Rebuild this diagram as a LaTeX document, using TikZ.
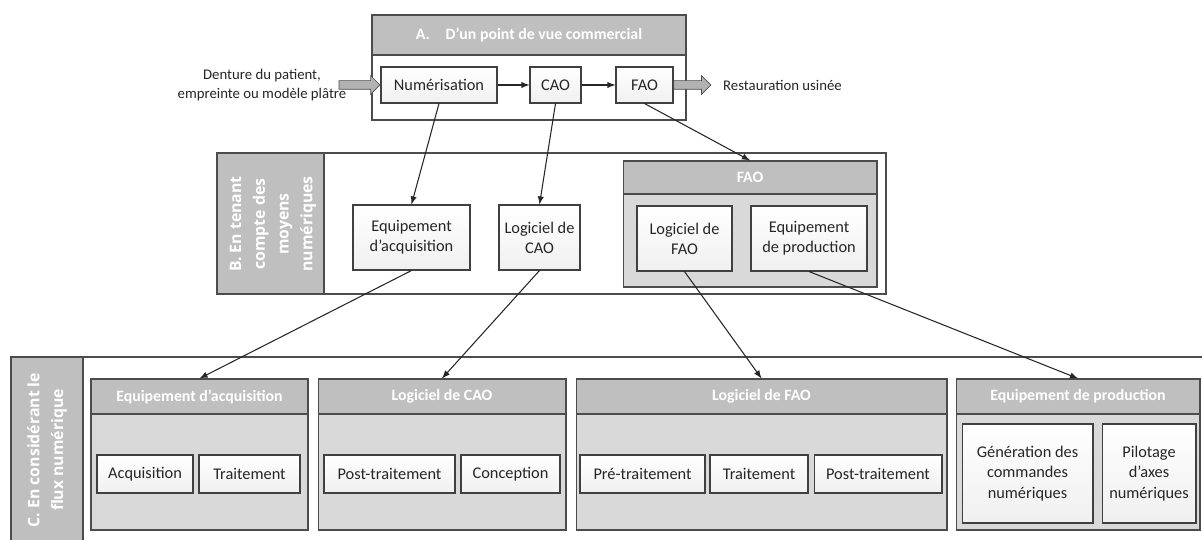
\documentclass[tikz,border=0pt]{standalone}
\usepackage{fontspec}
\setmainfont{Carlito}
\newfontfamily\labelfont{Open Sans}
\usetikzlibrary{shapes.arrows}

\begin{document}
\begin{tikzpicture}
[x=0.02cm, y=-0.02cm, font=\fontsize{9.3}{11.5}\selectfont,
frame/.style={draw=black!70, line width=0.8pt},
side/.style={draw=black!70, line width=0.8pt, fill=gray!50},
head/.style={draw=black!70, line width=0.6pt, fill=gray!50, text=white, inner sep=0pt, font=\bfseries\fontsize{9}{11}\selectfont},
body/.style={draw=black!70, line width=0.6pt, fill=gray!30, inner sep=0pt},
item/.style={draw=black!75, line width=0.6pt, top color=white, bottom color=gray!12, inner sep=0pt, align=center, text=black!85},
sidetext/.style={rotate=90, text=white, align=center, font=\labelfont\bfseries\fontsize{9}{13.5}\selectfont},
link/.style={-latex, black!85, line width=0.6pt},
bigarrow/.style={single arrow, draw=black!70, fill=gray!60, inner xsep=0pt, inner ysep=0.08cm, single arrow head extend=0.1cm}]
\clip (0,0) rectangle (1202,540);
\fill[white] (0,0) rectangle (1202,540);

% A. commercial
\draw[frame, fill=white] (372,15) rectangle (686,120);
\node[head, minimum width=6.28cm, minimum height=0.8cm] (ahead) at (529,35) {A.\quad D'un point de vue commercial};
\node[item, minimum width=2.32cm, minimum height=0.72cm] (num) at (439,85) {Numérisation};
\node[item, minimum width=1.02cm, minimum height=0.72cm] (cao) at (555.5,85) {CAO};
\node[item, minimum width=1.14cm, minimum height=0.72cm] (fao) at (644.5,85) {FAO};
\node[align=center, font=\fontsize{8.4}{11}\selectfont, text=black!85] (dent) at (262,85) {Denture du patient,\\empreinte ou modèle plâtre};
\node[anchor=west, font=\fontsize{8.4}{11}\selectfont, text=black!85] (rest) at (717,85) {Restauration usinée};
\node[bigarrow, minimum height=0.82cm, anchor=tip] (inarr) at (num.west) {};
\node[bigarrow, minimum height=0.74cm, anchor=tail] (outarr) at (fao.east) {};
\draw[link] (num) -- (cao);
\draw[link] (cao) -- (fao);

% B. moyens
\draw[frame, fill=white] (217,153) rectangle (886,294);
\draw[side] (217,153) rectangle (324,294);
\node[sidetext] (blabel) at (273,224) {B. En tenant\\compte des\\moyens\\numériques};
\node[item, minimum width=2.34cm, minimum height=1.3cm] (eqacqb) at (411.5,237.5) {Equipement\\d'acquisition};
\node[item, minimum width=1.62cm, minimum height=1.3cm] (logcaob) at (539.5,237.5) {Logiciel de\\CAO};
\node[body, minimum width=5.08cm, minimum height=1.86cm] (faobody) at (750,240.5) {};
\node[head, minimum width=5.08cm, minimum height=0.66cm] (faohead) at (750,177.5) {FAO};
\node[item, minimum width=1.9cm, minimum height=1.3cm] (logfaob) at (684.5,238.5) {Logiciel de\\FAO};
\node[item, minimum width=2.32cm, minimum height=1.3cm] (eqprodb) at (809,238.5) {Equipement\\de production};

% C. flux
\draw[frame, fill=white] (11,357) rectangle (1215,555);
\draw[side] (11,357) rectangle (83,555);
\node[sidetext] (clabel) at (47,450) {C. En considérant le\\flux numérique};

\node[body, minimum width=4.34cm, minimum height=2.32cm] (g1) at (199.5,472) {};
\node[head, minimum width=4.34cm, minimum height=0.7cm] (g1h) at (199.5,396.5) {Equipement d'acquisition};
\node[item, minimum width=1.92cm, minimum height=0.76cm] (acq) at (145,474) {Acquisition};
\node[item, minimum width=2.02cm, minimum height=0.76cm] (trta) at (249.5,474) {Traitement};

\node[body, minimum width=4.96cm, minimum height=2.32cm] (g2) at (442,472) {};
\node[head, minimum width=4.96cm, minimum height=0.7cm] (g2h) at (442,396.5) {Logiciel de CAO};
\node[item, minimum width=2.62cm, minimum height=0.76cm] (posta) at (389.5,474) {Post-traitement};
\node[item, minimum width=1.98cm, minimum height=0.76cm] (conc) at (510.5,474) {Conception};

\node[body, minimum width=7.42cm, minimum height=2.32cm] (g3) at (761.5,472) {};
\node[head, minimum width=7.42cm, minimum height=0.7cm] (g3h) at (761.5,396.5) {Logiciel de FAO};
\node[item, minimum width=2.5cm, minimum height=0.76cm] (pre) at (642.5,474) {Pré-traitement};
\node[item, minimum width=1.96cm, minimum height=0.76cm] (trtb) at (759,474) {Traitement};
\node[item, minimum width=2.56cm, minimum height=0.76cm] (postb) at (878,474) {Post-traitement};

\node[body, minimum width=4.88cm, minimum height=2.32cm] (g4) at (1078,472) {};
\node[head, minimum width=4.88cm, minimum height=0.7cm] (g4h) at (1078,396.5) {Equipement de production};
\node[item, minimum width=2.62cm, minimum height=1.98cm] (gen) at (1027.5,473.5) {Génération des\\commandes\\numériques};
\node[item, minimum width=1.88cm, minimum height=1.98cm] (pil) at (1149,473.5) {Pilotage\\d'axes\\numériques};

% liens
\draw[link] (num.south) -- (eqacqb.north);
\draw[link] (cao.south) -- (logcaob.north);
\draw[link] (fao.south) -- (faohead.north);
\draw[link] (eqacqb.south) -- (g1h.north);
\draw[link] (logcaob.south) -- (g2h.north);
\draw[link] (logfaob.south) -- (g3h.north);
\draw[link] (eqprodb.south) -- (g4h.north);
\end{tikzpicture}
\end{document}
